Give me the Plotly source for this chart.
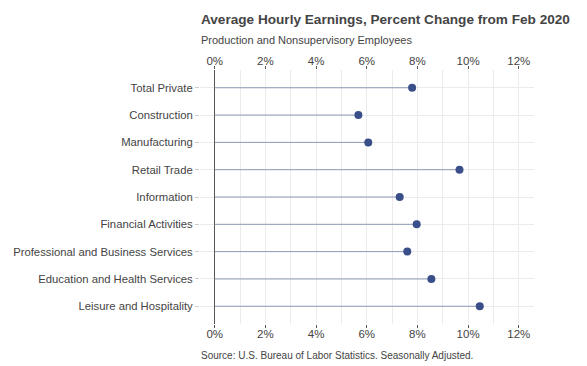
import plotly.graph_objects as go

categories = ["Total Private", "Construction", "Manufacturing", "Retail Trade", "Information",
              "Financial Activities", "Professional and Business Services",
              "Education and Health Services", "Leisure and Hospitality"]
pct_change = [7.79, 5.67, 6.06, 9.66, 7.30, 7.97, 7.60, 8.55, 10.46]
tick_vals = [0, 2, 4, 6, 8, 10, 12]
tick_text = ["0%", "2%", "4%", "6%", "8%", "10%", "12%"]

FONT = "Liberation Sans, Arial, sans-serif"
TXT = "#444444"
DOT = "#3a4e89"
STEM = "#8f99b7"

seg_x, seg_y = [], []
for c, v in zip(categories, pct_change):
    seg_x += [0, v, None]
    seg_y += [c, c, None]

fig = go.Figure()
fig.add_trace(go.Scatter(x=seg_x, y=seg_y, mode="lines",
                         line=dict(color=STEM, width=1), hoverinfo="skip", showlegend=False))
fig.add_trace(go.Scatter(x=pct_change, y=categories, mode="markers",
                         marker=dict(color=DOT, size=8), showlegend=False))
# invisible trace for top axis
fig.add_trace(go.Scatter(x=pct_change, y=categories, mode="markers", xaxis="x2",
                         marker=dict(opacity=0), hoverinfo="skip", showlegend=False))

xr = [-0.58, 12.6]
common_x = dict(range=xr, tickvals=tick_vals, ticktext=tick_text,
                showgrid=True, gridcolor="#ebebeb", gridwidth=1,
                ticks="outside", ticklen=3, tickcolor="#555555",
                ticklabelstandoff=-4,
                tickfont=dict(family=FONT, size=11.5, color=TXT),
                showline=False)
fig.update_layout(
    width=587, height=366,
    margin=dict(l=200, r=53, t=70, b=42),
    paper_bgcolor="white", plot_bgcolor="white",
    font=dict(family=FONT, color=TXT),
    xaxis=dict(**common_x, side="bottom", zeroline=True, zerolinecolor="#555555", zerolinewidth=1,
               minor=dict(dtick=1, tick0=0, showgrid=True, gridcolor="#ebebeb", gridwidth=1, ticks="")),
    xaxis2=dict(**common_x, side="top", overlaying="x", zeroline=False, matches="x"),
    yaxis=dict(categoryorder="array", categoryarray=categories, autorange=False,
               range=[8.65, -0.65], showgrid=True, gridcolor="#ebebeb", gridwidth=1,
               ticks="outside", ticklen=4, tickcolor="#cccccc", automargin=False,
               tickfont=dict(family=FONT, size=11.3, color=TXT), zeroline=False),
    annotations=[
        dict(text="<b>Average Hourly Earnings, Percent Change from Feb 2020</b>",
             xref="paper", yref="paper", x=-0.003, y=1.0, xanchor="left", yanchor="bottom",
             yshift=41, showarrow=False, font=dict(family=FONT, size=13.6, color=TXT)),
        dict(text="Production and Nonsupervisory Employees",
             xref="paper", yref="paper", x=-0.003, y=1.0, xanchor="left", yanchor="bottom",
             yshift=22, showarrow=False, font=dict(family=FONT, size=11, color=TXT)),
        dict(text="Source: U.S. Bureau of Labor Statistics. Seasonally Adjusted.",
             xref="paper", yref="paper", x=-0.003, y=0.0, xanchor="left", yanchor="top",
             yshift=-24, showarrow=False, font=dict(family=FONT, size=10, color=TXT)),
    ],
)
fig.write_html("out.html", post_script="document.body.style.margin='0';",
               config={"displayModeBar": False})
